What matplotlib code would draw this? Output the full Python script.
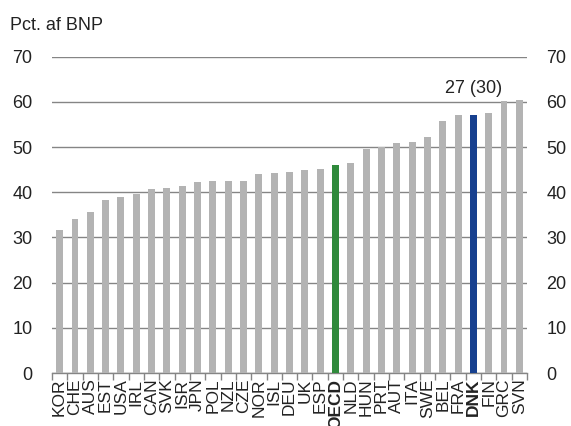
import matplotlib.pyplot as plt
import numpy as np

plt.rcParams['font.family'] = ['Liberation Sans', 'DejaVu Sans']

# Data
lande = ['KOR', 'CHE', 'AUS', 'EST', 'USA', 'IRL', 'CAN', 'SVK', 'ISR', 'JPN',
         'POL', 'NZL', 'CZE', 'NOR', 'ISL', 'DEU', 'UK', 'ESP', 'OECD', 'NLD',
         'HUN', 'PRT', 'AUT', 'ITA', 'SWE', 'BEL', 'FRA', 'DNK', 'FIN', 'GRC', 'SVN']
vaerdier = [31.7, 34.0, 35.6, 38.3, 38.9, 39.7, 40.7, 41.0, 41.5, 42.3,
            42.4, 42.4, 42.6, 44.1, 44.2, 44.5, 44.9, 45.2, 46.1, 46.5,
            49.6, 50.0, 51.0, 51.1, 52.3, 55.7, 57.1, 57.1, 57.6, 60.2, 60.4]
fremhaevet = {'OECD': '#2f8a3b', 'DNK': '#17408f'}
annotering = '27 (30)'

fig = plt.figure(figsize=(5.71, 4.26), dpi=100)
ax = fig.add_axes([0.091, 0.1244, 0.832, 0.7423])

x = np.arange(len(lande))
farver = [fremhaevet.get(l, '#b3b3b3') for l in lande]
ax.bar(x, vaerdier, width=0.45, color=farver, zorder=3)

ax.set_ylim(0, 70)
ax.set_xlim(-0.5, len(lande) - 0.5)
ax.set_yticks(range(0, 71, 10))
ax.grid(axis='y', color='#858585', linewidth=1.0, zorder=0)

for s in ['top', 'left', 'right']:
    ax.spines[s].set_visible(False)
ax.spines['bottom'].set_color('#858585')
ax.spines['bottom'].set_linewidth(1.0)

ax.tick_params(axis='y', length=0, labelsize=13, labelcolor='#222222',
               left=True, right=True, labelleft=True, labelright=True, pad=14)

ax.set_xticks(x)
ax.set_xticklabels(lande, rotation=90, fontsize=12.5, color='#222222')
ax.set_xticks(np.arange(-0.5, len(lande), 1), minor=True)
ax.tick_params(axis='x', which='major', length=0, pad=4)
ax.tick_params(axis='x', which='minor', length=5, color='#858585', width=1)
for lbl in ax.get_xticklabels():
    if lbl.get_text() in fremhaevet:
        lbl.set_fontweight('bold')

i = lande.index('DNK')
ax.text(x[i], 61.0, annotering, ha='center', va='bottom', fontsize=13, color='#222222')

fig.text(0.018, 0.93, 'Pct. af BNP', fontsize=13, color='#222222')

fig.savefig('out.png', dpi=100)
